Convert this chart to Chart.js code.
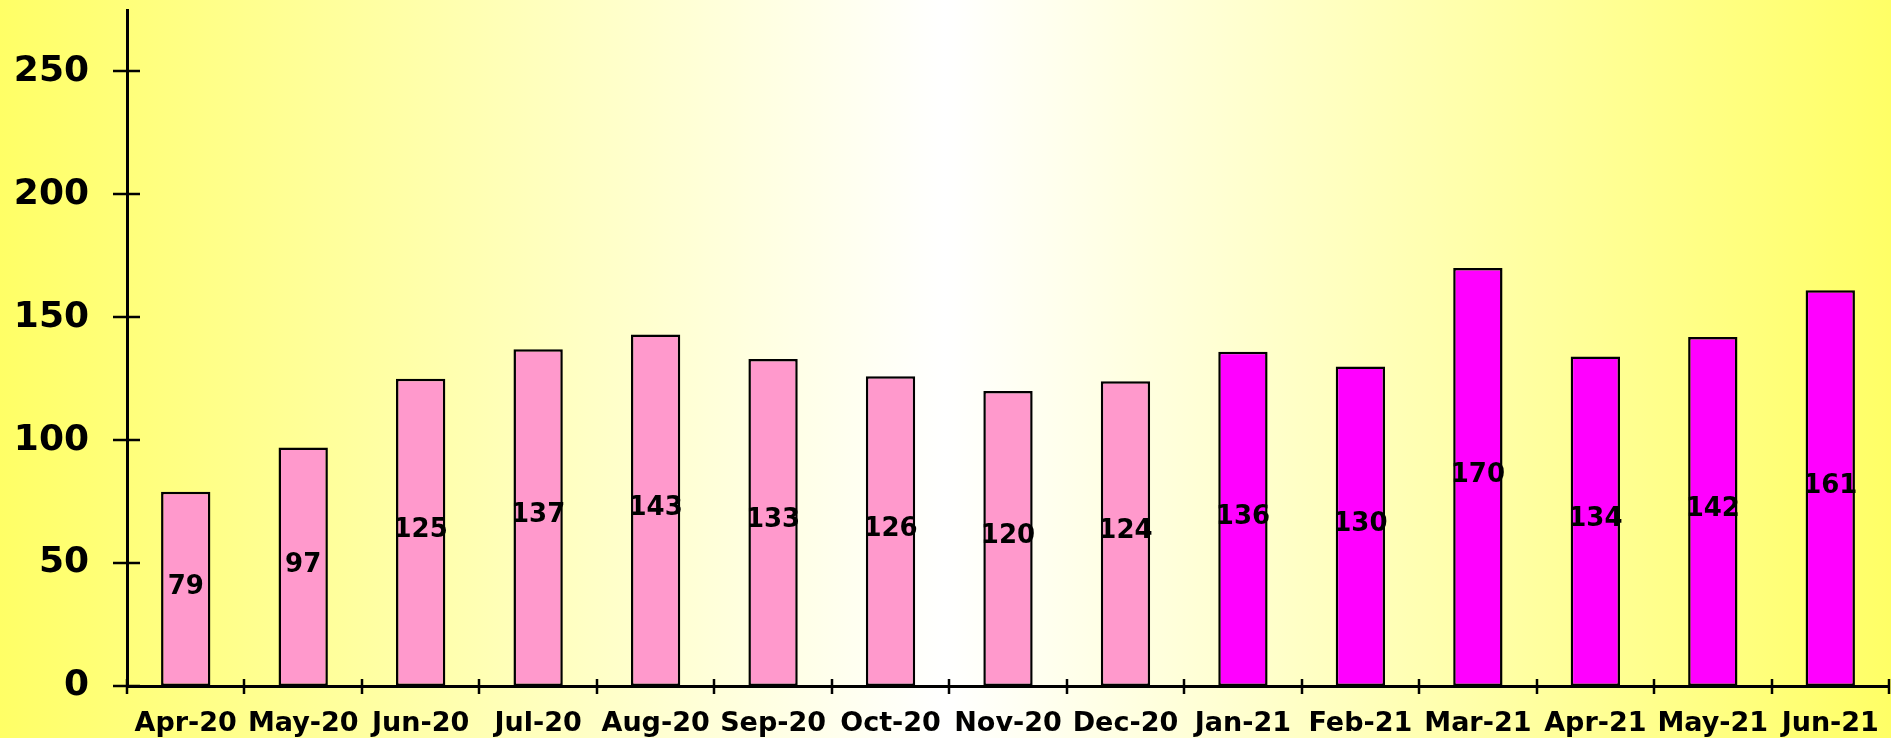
<!DOCTYPE html>
<html>
<head>
<meta charset="utf-8">
<script src="https://cdn.jsdelivr.net/npm/chart.js@4"></script>
<style>
  html, body { margin: 0; padding: 0; }
  body {
    width: 1891px;
    height: 738px;
    overflow: hidden;
    background: linear-gradient(to right, #ffff66 0%, #ffffff 50%, #ffff66 100%);
  }
  canvas { display: block; }
</style>
</head>
<body>
<canvas id="monthChart" width="1891" height="738"></canvas>
<script>
const months = ["Apr-20", "May-20", "Jun-20", "Jul-20", "Aug-20", "Sep-20", "Oct-20", "Nov-20",
  "Dec-20", "Jan-21", "Feb-21", "Mar-21", "Apr-21", "May-21", "Jun-21"];
const counts = [79, 97, 125, 137, 143, 133, 126, 120, 124, 136, 130, 170, 134, 142, 161];
const yTicks = [0, 50, 100, 150, 200, 250];
const yMax = 275;

const FONT = "'DejaVu Sans', Arial, sans-serif";

// black tick marks that cross both axes
const crossTicks = {
  id: "crossTicks",
  afterDraw(chart) {
    const ctx = chart.ctx;
    const x = chart.scales.x;
    const y = chart.scales.y;
    ctx.save();
    ctx.strokeStyle = "#000";
    ctx.lineWidth = 2.5;
    yTicks.forEach((v) => {
      const py = Math.round(y.getPixelForValue(v));
      ctx.beginPath();
      ctx.moveTo(x.left - 14, py);
      ctx.lineTo(x.left + 13, py);
      ctx.stroke();
    });
    const step = (x.right - x.left) / months.length;
    for (let i = 0; i <= months.length; i++) {
      const px = Math.round(x.left + i * step);
      ctx.beginPath();
      ctx.moveTo(px, y.bottom - 7);
      ctx.lineTo(px, y.bottom + 8);
      ctx.stroke();
    }
    ctx.restore();
  },
};

// value labels in the middle of each bar
const barValues = {
  id: "barValues",
  afterDatasetsDraw(chart) {
    const ctx = chart.ctx;
    const meta = chart.getDatasetMeta(0);
    ctx.save();
    ctx.fillStyle = "#000";
    ctx.font = "bold 26px " + FONT;
    ctx.textAlign = "center";
    ctx.textBaseline = "middle";
    meta.data.forEach((bar, i) => {
      ctx.fillText(String(counts[i]), bar.x, (bar.y + bar.base) / 2 - 2);
    });
    ctx.restore();
  },
};

new Chart(document.getElementById("monthChart"), {
  type: "bar",
  data: {
    labels: months,
    datasets: [
      {
        data: counts,
        backgroundColor: months.map((m) => (m.endsWith("-21") ? "#ff00ff" : "#ff99cc")),
        borderColor: "#000",
        borderWidth: 2.5,
        borderSkipped: false,
        categoryPercentage: 1,
        barPercentage: 0.42,
      },
    ],
  },
  options: {
    responsive: false,
    animation: false,
    layout: { padding: { top: 10, right: 2, left: 0, bottom: 0 } },
    plugins: {
      legend: { display: false },
      tooltip: { enabled: false },
    },
    scales: {
      x: {
        grid: { display: false, drawTicks: false },
        border: { display: true, color: "#000", width: 3 },
        ticks: {
          color: "#000",
          font: { family: FONT, size: 27, weight: "bold" },
          padding: 22,
          maxRotation: 0,
          autoSkip: false,
        },
        afterFit(scale) {
          scale.height = 52;
          scale.paddingLeft = 0;
          scale.paddingRight = 0;
        },
      },
      y: {
        min: 0,
        max: yMax,
        grid: { display: false, drawTicks: false },
        border: { display: true, color: "#000", width: 3 },
        ticks: {
          color: "#000",
          font: { family: FONT, size: 36, weight: "bold" },
          padding: 38,
          stepSize: 50,
        },
        afterBuildTicks(scale) {
          scale.ticks = yTicks.map((v) => ({ value: v }));
        },
        afterFit(scale) {
          scale.width = 127;
          scale.paddingTop = 0;
          scale.paddingBottom = 0;
        },
      },
    },
  },
  plugins: [crossTicks, barValues],
});
</script>
</body>
</html>
